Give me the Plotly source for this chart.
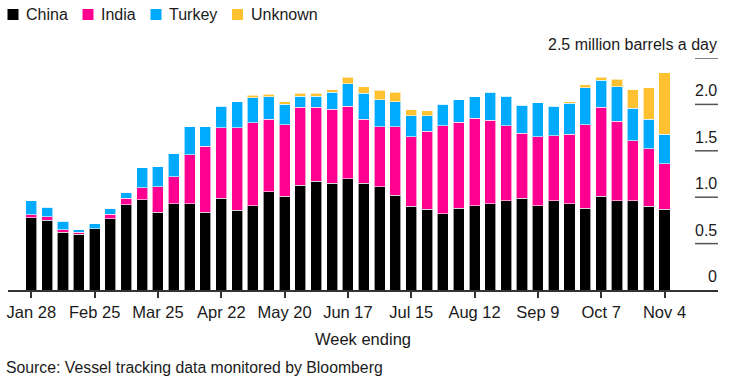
import plotly.graph_objects as go

weeks = ["Jan 28", "Feb 4", "Feb 11", "Feb 18", "Feb 25", "Mar 4", "Mar 11", "Mar 18", "Mar 25",
         "Apr 1", "Apr 8", "Apr 15", "Apr 22", "Apr 29", "May 6", "May 13", "May 20", "May 27",
         "Jun 3", "Jun 10", "Jun 17", "Jun 24", "Jul 1", "Jul 8", "Jul 15", "Jul 22", "Jul 29",
         "Aug 5", "Aug 12", "Aug 19", "Aug 26", "Sep 2", "Sep 9", "Sep 16", "Sep 23", "Sep 30",
         "Oct 7", "Oct 14", "Oct 21", "Oct 28", "Nov 4"]

china = [0.78, 0.75, 0.62, 0.60, 0.66, 0.77, 0.92, 0.97, 0.84, 0.93, 0.93, 0.84, 0.99, 0.86,
         0.91, 1.06, 1.01, 1.13, 1.17, 1.15, 1.20, 1.15, 1.11, 1.02, 0.90, 0.87, 0.82, 0.88,
         0.91, 0.93, 0.96, 0.99, 0.91, 0.96, 0.93, 0.88, 1.01, 0.96, 0.96, 0.90, 0.87]
india = [0.03, 0.04, 0.03, 0.025, 0.0, 0.045, 0.07, 0.13, 0.27, 0.29, 0.53, 0.71, 0.76, 0.89,
         0.89, 0.78, 0.77, 0.84, 0.80, 0.80, 0.78, 0.69, 0.65, 0.74, 0.75, 0.84, 0.95, 0.93,
         0.94, 0.90, 0.81, 0.70, 0.74, 0.70, 0.75, 0.90, 0.96, 0.86, 0.65, 0.62, 0.49]
turkey = [0.15, 0.10, 0.09, 0.025, 0.055, 0.06, 0.06, 0.22, 0.22, 0.25, 0.30, 0.21, 0.23, 0.28,
          0.27, 0.24, 0.22, 0.12, 0.12, 0.18, 0.24, 0.28, 0.29, 0.27, 0.23, 0.17, 0.23, 0.24,
          0.23, 0.30, 0.32, 0.30, 0.37, 0.32, 0.33, 0.40, 0.29, 0.37, 0.35, 0.32, 0.32]
unknown = [0, 0, 0, 0, 0, 0, 0, 0, 0, 0, 0, 0, 0, 0,
           0.03, 0.03, 0.03, 0.03, 0.03, 0.03, 0.07, 0.07, 0.10, 0.10, 0.06, 0.05, 0, 0,
           0, 0, 0, 0, 0, 0, 0.02, 0.03, 0.03, 0.08, 0.20, 0.34, 0.66]

tick_labels = ["Jan 28", "Feb 25", "Mar 25", "Apr 22", "May 20", "Jun 17", "Jul 15",
               "Aug 12", "Sep 9", "Oct 7", "Nov 4"]
y_ticks = [0, 0.5, 1.0, 1.5, 2.0]
y_tick_text = ["0", "0.5", "1.0", "1.5", "2.0"]
y_top = 2.5
y_top_text = "2.5 million barrels a day"

series_names = ["China", "India", "Turkey", "Unknown"]
series_colors = ["#000000", "#ff0090", "#00aaff", "#ffc130"]
series_values = [china, india, turkey, unknown]

FONT = "Liberation Sans, Arial, sans-serif"
TXT = "#1a1a1a"
W, H = 730, 382
ML, MR, MT, MB = 8, 12, 58, 92
PW, PH = W - ML - MR, H - MT - MB


def px_x(px):
    return (px - ML) / PW


def px_y(py):
    return (H - MB - py) / PH


fig = go.Figure()
for name, vals, col in zip(series_names, series_values, series_colors):
    fig.add_trace(go.Bar(x=weeks, y=vals, name=name, marker_color=col, showlegend=False,
                         marker_line=dict(color="rgba(255,255,255,0.6)", width=1)))

shapes = []
annotations = []
for v, t in zip(y_ticks, y_tick_text):
    if v > 0:
        shapes.append(dict(type="line", xref="paper", yref="y", x0=px_x(695), x1=px_x(718), y0=v, y1=v,
                           line=dict(color="#555555", width=1.5)))
    annotations.append(dict(xref="paper", yref="y", x=px_x(719), y=v, text=t, showarrow=False,
                            xanchor="right", yanchor="bottom", yshift=3,
                            font=dict(size=16, color=TXT, family=FONT)))
shapes.append(dict(type="line", xref="paper", yref="y", x0=px_x(695), x1=px_x(718), y0=y_top, y1=y_top,
                   line=dict(color="#555555", width=1.5)))
annotations.append(dict(xref="paper", yref="y", x=px_x(719), y=y_top, text=y_top_text, showarrow=False,
                        xanchor="right", yanchor="bottom", yshift=3,
                        font=dict(size=16, color=TXT, family=FONT)))
annotations.append(dict(xref="paper", yref="paper", x=px_x(4), y=px_y(367),
                        text="Source: Vessel tracking data monitored by Bloomberg",
                        showarrow=False, xanchor="left", yanchor="middle",
                        font=dict(size=15.8, color=TXT, family=FONT)))

# custom legend
legend_sq_left = [7.5, 82.5, 150.5, 232]
for name, col, lx in zip(series_names, series_colors, legend_sq_left):
    shapes.append(dict(type="rect", xref="paper", yref="paper", x0=px_x(lx), x1=px_x(lx + 11),
                       y0=px_y(20), y1=px_y(9), fillcolor=col, line=dict(width=0)))
    annotations.append(dict(xref="paper", yref="paper", x=px_x(lx + 16.5), y=px_y(14.5), text=name,
                            showarrow=False, xanchor="left", yanchor="middle",
                            font=dict(size=16, color=TXT, family=FONT)))

k = 15.83
r0 = -(31.3 - ML) / k
fig.update_layout(
    width=W, height=H,
    margin=dict(l=ML, r=MR, t=MT, b=MB, autoexpand=False),
    barmode="stack", bargap=0.3,
    plot_bgcolor="white", paper_bgcolor="white",
    font=dict(family=FONT, color=TXT, size=16),
    showlegend=False,
    xaxis=dict(type="category", range=[r0, r0 + PW / k], tickmode="array",
               tickvals=tick_labels, ticktext=tick_labels, ticks="outside", ticklen=6,
               tickcolor="#333333", tickwidth=1.5, showline=True, linecolor="#333333", linewidth=1.5,
               showgrid=False, tickfont=dict(size=16.5, color=TXT, family=FONT),
               title=dict(text="Week ending", font=dict(size=16.5, color=TXT, family=FONT), standoff=14)),
    yaxis=dict(range=[0, y_top], showticklabels=False, showgrid=False, zeroline=False, ticks=""),
    shapes=shapes, annotations=annotations,
)

fig.write_html("out.html", config={"displayModeBar": False},
               post_script="document.body.style.margin='0';document.body.style.overflow='hidden';")
